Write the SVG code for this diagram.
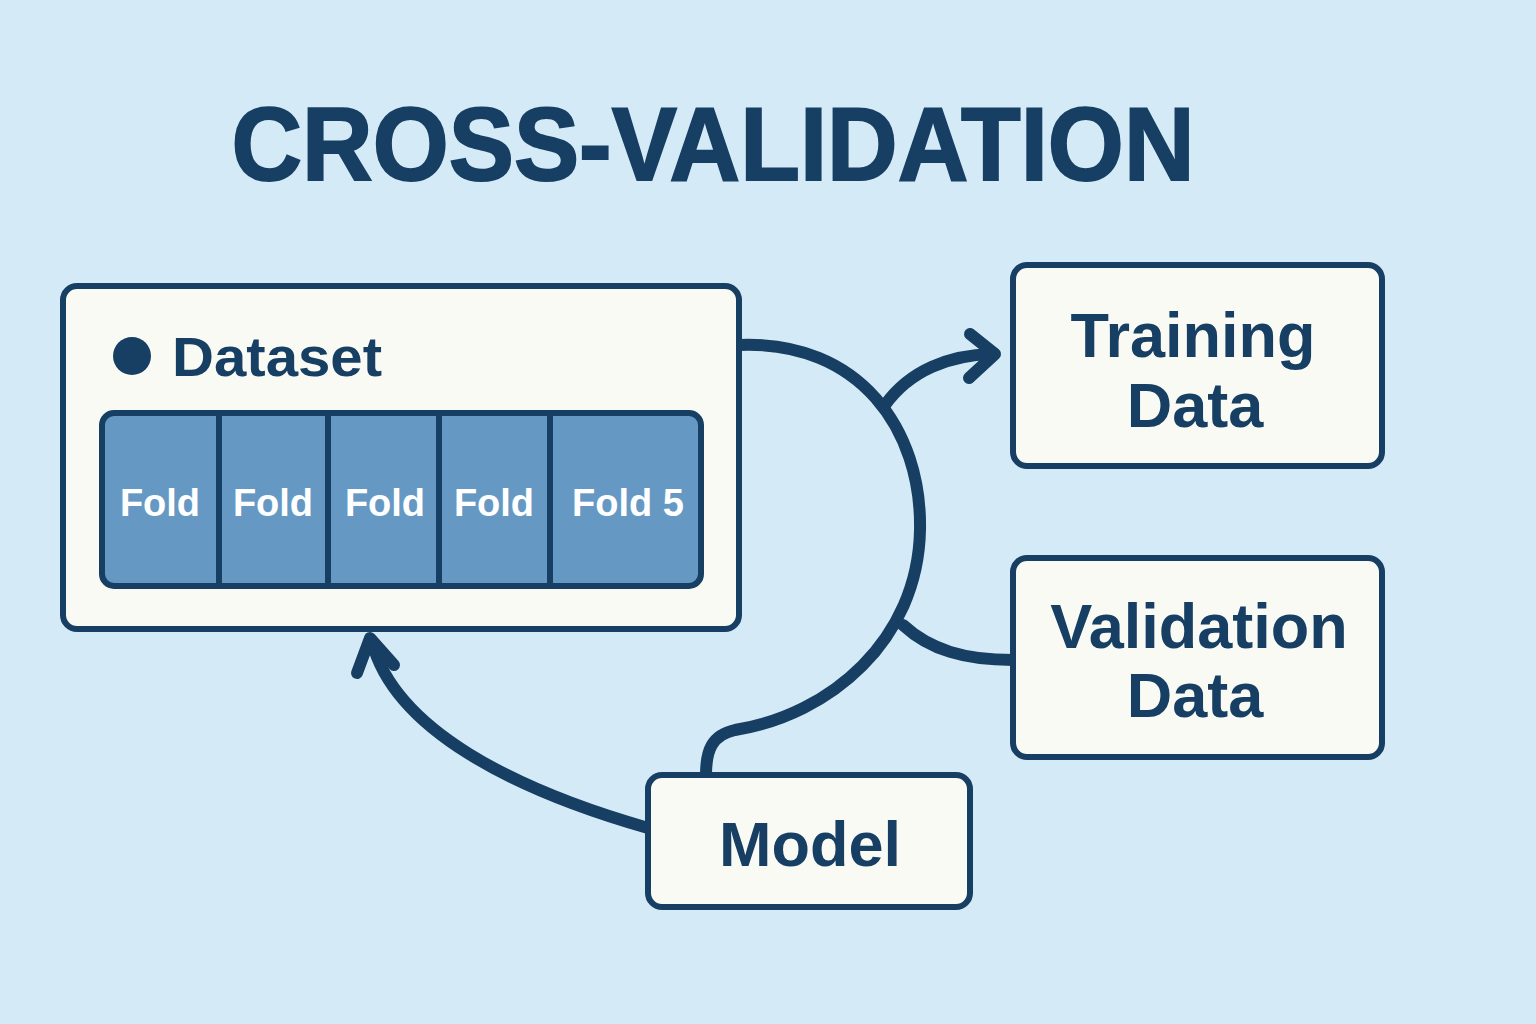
<svg xmlns="http://www.w3.org/2000/svg" width="1536" height="1024" viewBox="0 0 1536 1024">
<style>
.box{fill:#fafaf4;stroke:#173f63;stroke-width:6}
.lbl{font-family:"Liberation Sans",Arial,sans-serif;font-weight:bold;fill:#173f63;text-anchor:middle}
.fold{font-family:"Liberation Sans",Arial,sans-serif;font-weight:bold;fill:#ffffff;font-size:38px;text-anchor:middle}
.conn{fill:none;stroke:#173f63;stroke-width:12;stroke-linecap:round;stroke-linejoin:round}
</style>
<rect width="1536" height="1024" fill="#d4eaf7"/>
<text class="lbl" x="713" y="180" font-size="104" textLength="963" lengthAdjust="spacingAndGlyphs" stroke="#173f63" stroke-width="2">CROSS-VALIDATION</text>
<g id="connectors">
<path class="conn" d="M739,345 C860,340 922,430 920,530 C918,640 830,715 735,730 C712,735 706,750 706,775"/>
<path class="conn" d="M885,405 C910,370 950,355 992,354"/>
<path class="conn" d="M970,334 L995,354 L969,378"/>
<path class="conn" d="M903,625 C930,650 965,660 1013,660"/>
<path class="conn" d="M648,828 C515,790 395,730 372,642"/>
<path class="conn" d="M357,673 L370,638 L394,665"/>
</g>
<g id="dataset">
<rect class="box" x="63" y="286" width="676" height="343" rx="14"/>
<circle cx="132" cy="356" r="19" fill="#173f63"/>
<text class="lbl" x="172" y="376" font-size="56" style="text-anchor:start" textLength="210" lengthAdjust="spacingAndGlyphs">Dataset</text>
<rect x="102" y="413" width="599" height="173" rx="12" fill="#6599c3" stroke="#173f63" stroke-width="6"/>
<g stroke="#173f63" stroke-width="6">
<line x1="219" y1="416" x2="219" y2="583"/>
<line x1="328" y1="416" x2="328" y2="583"/>
<line x1="439" y1="416" x2="439" y2="583"/>
<line x1="550" y1="416" x2="550" y2="583"/>
</g>
<text class="fold" x="160" y="516">Fold</text>
<text class="fold" x="273" y="516">Fold</text>
<text class="fold" x="385" y="516">Fold</text>
<text class="fold" x="494" y="516">Fold</text>
<text class="fold" x="628" y="516">Fold 5</text>
</g>
<g id="training">
<rect class="box" x="1013" y="265" width="369" height="201" rx="14"/>
<text class="lbl" x="1193" y="357" font-size="63">Training</text>
<text class="lbl" x="1195" y="427" font-size="63">Data</text>
</g>
<g id="validation">
<rect class="box" x="1013" y="558" width="369" height="199" rx="14"/>
<text class="lbl" x="1199" y="648" font-size="63">Validation</text>
<text class="lbl" x="1195" y="717" font-size="63">Data</text>
</g>
<g id="model">
<rect class="box" x="648" y="775" width="322" height="132" rx="14"/>
<text class="lbl" x="810" y="866" font-size="63">Model</text>
</g>
</svg>
